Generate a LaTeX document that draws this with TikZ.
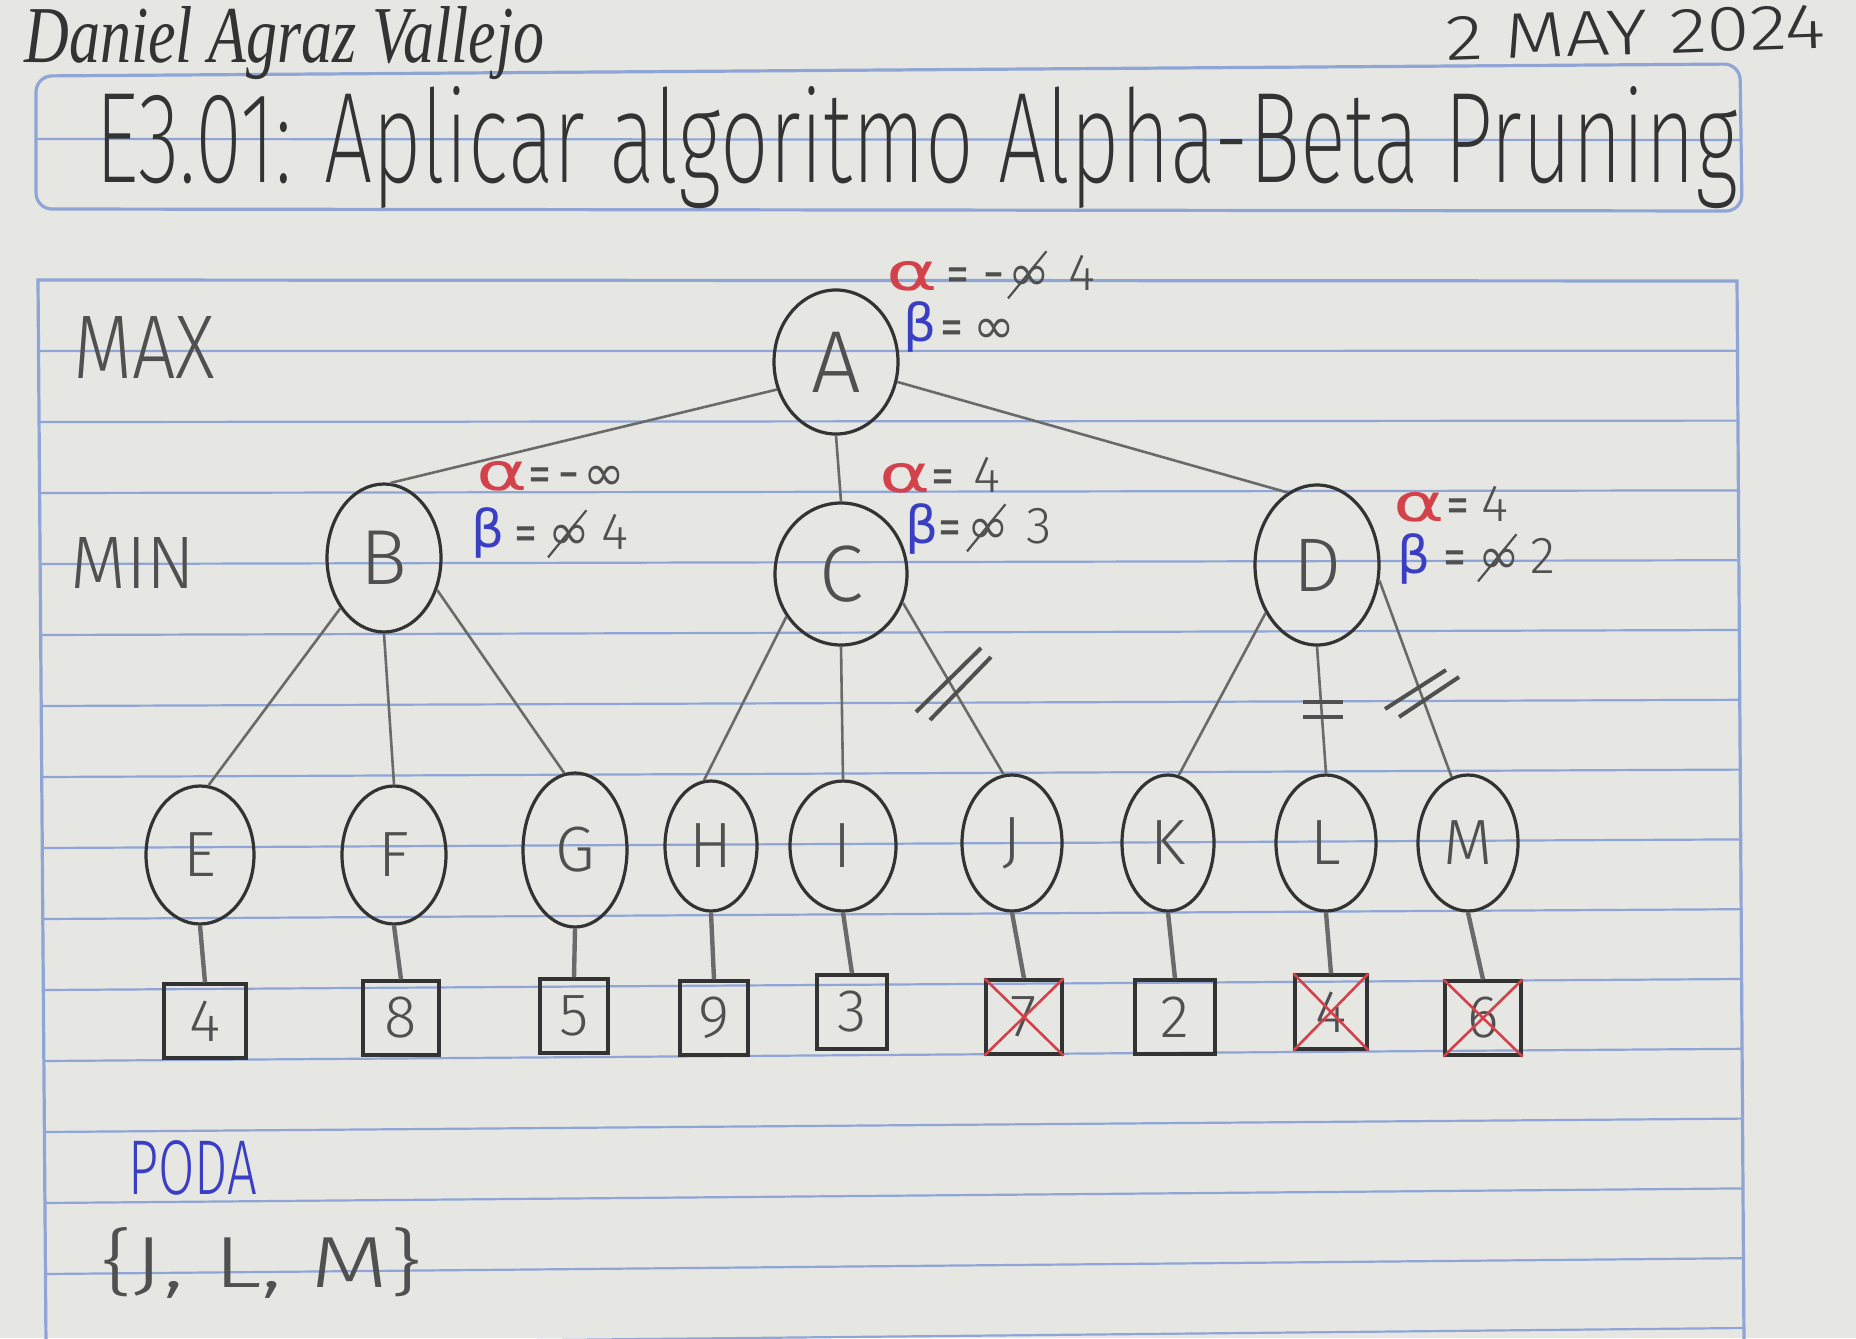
\documentclass[tikz,border=0pt]{standalone}
\usepackage{fontspec}
\usepackage{graphicx}
\usetikzlibrary{shapes.geometric}
\newfontfamily\djv{DejaVu Sans}
\newfontfamily\sigfont{Liberation Serif}
\IfFontExistsTF{Fira Sans ExtraLight}{\newfontfamily\handthin{Fira Sans ExtraLight}}{%
 \IfFontExistsTF{Fira Sans Light}{\newfontfamily\handthin{Fira Sans Light}}{%
  \IfFontExistsTF{Lato Light}{\newfontfamily\handthin{Lato Light}}{%
   \IfFontExistsTF{Open Sans Light}{\newfontfamily\handthin{Open Sans Light}}{%
    \newfontfamily\handthin{Latin Modern Sans}}}}}
\IfFontExistsTF{Fira Sans Light}{\newfontfamily\hand{Fira Sans Light}}{%
 \IfFontExistsTF{Lato Light}{\newfontfamily\hand{Lato Light}}{%
  \IfFontExistsTF{Open Sans Light}{\newfontfamily\hand{Open Sans Light}}{%
   \newfontfamily\hand{Latin Modern Sans}}}}
\definecolor{paper}{HTML}{E6E6E3}
\definecolor{ruleblue}{HTML}{8EA5D5}
\definecolor{pencil}{HTML}{505050}
\definecolor{ink}{HTML}{333333}
\definecolor{penred}{HTML}{D3424A}
\definecolor{penblue}{HTML}{3A3EC2}
\definecolor{edgegray}{HTML}{6A6A6A}
\newcommand\nEq{\scalebox{0.55}[1]{=}}
\newcommand\nMin{\scalebox{0.5}[1]{−}}
\newcommand\bigA{\scalebox{1.5}[1]{α}}
\begin{document}
\begin{tikzpicture}[x=0.5pt,y=-0.5pt,
  ruleline/.style={draw=ruleblue,line width=1.1pt},
  border/.style={draw=ruleblue,line width=1.6pt},
  tnode/.style={ellipse,draw=ink,line width=1.6pt,inner sep=0pt,text=pencil,font=\hand\fontsize{32}{34}\selectfont},
  vbox/.style={rectangle,draw=ink,line width=1.6pt,inner sep=0pt,minimum width=38pt,minimum height=37pt,text=pencil,font=\hand\fontsize{30}{32}\selectfont},
  edge/.style={draw=edgegray,line width=1.3pt},
  stub/.style={draw=edgegray,line width=2.2pt},
  hash/.style={draw=pencil,line width=2pt},
  cross/.style={draw=penred,line width=1.3pt},
  slash/.style={draw=pencil,line width=1.1pt},
  ann/.style={inner sep=0pt,anchor=base west,text=pencil,font=\djv\fontsize{25}{28}\selectfont},
  num/.style={inner sep=0pt,anchor=base west,text=pencil,font=\hand\fontsize{26}{28}\selectfont},
  greek/.style={inner sep=0pt,anchor=base west,font=\djv\fontsize{26}{28}\selectfont},
  label/.style={inner sep=0pt,anchor=base west,text=pencil}]

\fill[paper] (0,0) rectangle (1856,1338);
\useasboundingbox (0,0) rectangle (1856,1338);

% notebook ruling
\begin{scope}
\clip (0,0) rectangle (1856,1338);
\foreach \k in {1,...,15}{
  \draw[ruleline] ({38+8*(71*\k)/1058},{280+71*\k}) -- ({1737+6*(70*\k)/1058},{281+69.8*\k});
}
\draw[border] (46,1345) -- (38,280) -- (1737,281) -- (1744,1345);
\end{scope}
\draw[border,rounded corners=8pt] (36,209) -- (36,76) -- (1740,64) -- (1742,211) -- cycle;
\draw[ruleline] (36,139) -- (1741,140);

% header
\node[label,text=ink] (sig) at (24,63) {\resizebox{260pt}{28pt}{\sigfont\itshape Daniel Agraz Vallejo}};
\node[label,text=ink,rotate=2] (date) at (1446,61) {\resizebox{190pt}{22pt}{\hand 2 MAY 2024}};
\node[label,text=ink] (title) at (95,182) {\resizebox{821pt}{48pt}{\handthin E3.01: Aplicar algoritmo Alpha-Beta Pruning}};

% level labels
\node[label] (max) at (73,378) {\resizebox{71pt}{31pt}{\hand MAX}};
\node[label] (min) at (70,588) {\resizebox{62.5pt}{25.5pt}{\hand MIN}};

% tree nodes
\node[tnode,minimum width=62pt,minimum height=72pt,font=\hand\fontsize{44}{46}\selectfont] (A) at (836,362) {A};
\node[tnode,minimum width=57pt,minimum height=74pt,font=\hand\fontsize{39}{41}\selectfont] (B) at (384,558) {B};
\node[tnode,minimum width=66pt,minimum height=71pt,font=\hand\fontsize{40}{42}\selectfont] (C) at (841,574) {C};
\node[tnode,minimum width=62pt,minimum height=80pt,font=\hand\fontsize{38}{40}\selectfont] (D) at (1317,565) {D};

\node[tnode,minimum width=54pt,minimum height=69pt] (E) at (200,855) {E};
\node[tnode,minimum width=52pt,minimum height=69pt] (F) at (394,855) {F};
\node[tnode,minimum width=52pt,minimum height=77pt] (G) at (575,850) {G};
\node[tnode,minimum width=46pt,minimum height=65pt] (H) at (711,846) {H};
\node[tnode,minimum width=53pt,minimum height=65pt] (I) at (843,846) {I};
\node[tnode,minimum width=50pt,minimum height=68pt] (J) at (1012,843) {J};
\node[tnode,minimum width=46pt,minimum height=68pt] (K) at (1168,843) {K};
\node[tnode,minimum width=50pt,minimum height=68pt] (L) at (1326,843) {L};
\node[tnode,minimum width=50pt,minimum height=68pt] (M) at (1468,843) {M};

% value boxes
\node[vbox,minimum width=41pt] (vE) at (205,1021) {4};
\node[vbox] (vF) at (401,1018) {8};
\node[vbox,minimum width=34pt] (vG) at (574,1016) {5};
\node[vbox,minimum width=34pt] (vH) at (714,1018) {9};
\node[vbox,minimum width=35pt] (vI) at (852,1012) {3};
\node[vbox] (vJ) at (1024,1017) {7};
\node[vbox,minimum width=40pt] (vK) at (1175,1017) {2};
\node[vbox,minimum width=36pt] (vL) at (1331,1012) {4};
\node[vbox] (vM) at (1483,1018) {6};

% edges
\draw[edge] (A.205) -- (B.85);
\draw[edge] (A.south) -- (C.north);
\draw[edge] (A.342) -- (D.112);
\draw[edge] (B.229) -- (E.83);
\draw[edge] (B.south) -- (F.north);
\draw[edge] (B.329) -- (G.98);
\draw[edge] (C.218) -- (H.96);
\draw[edge] (C.south) -- (I.north);
\draw[edge] (C.335) -- (J.97);
\draw[edge] (D.223) -- (K.81);
\draw[edge] (D.south) -- (L.north);
\draw[edge] (D.346) -- (M.104);

\foreach \n in {E,F,G,H,I,J,K,L,M}{
  \draw[stub] (\n.south) -- (v\n.north);
}

% pruning marks
\draw[hash] (916,712) -- (981,648);
\draw[hash] (930,720) -- (991,657);
\draw[hash] (1303,702) -- (1343,702);
\draw[hash] (1303,717) -- (1343,717);
\draw[hash] (1385,709) -- (1446,670);
\draw[hash] (1399,717) -- (1459,677);

% crossed leaves
\foreach \n in {vJ,vL,vM}{
  \draw[cross] (\n.north west) -- (\n.south east);
  \draw[cross] (\n.north east) -- (\n.south west);
}

% annotations A
\node[greek,text=penred] (aAal) at (886,290) {\bigA};
\node[ann] (aAeq) at (946,290) {\nEq};
\node[ann] (aAmi) at (983,290) {\nMin};
\node[ann] (aAin) at (1008,290) {∞};
\node[num] (aAv) at (1068,290) {4};
\draw[slash] ([shift={(0,8)}]aAin.south west) -- ([shift={(-4,-14)}]aAin.north east);
\node[greek,text=penblue] (aAbe) at (903,341) {β};
\node[ann] (aAeq2) at (940,343) {\nEq};
\node[ann] (aAin2) at (973,343) {∞};

% annotations B
\node[greek,text=penred] (aBal) at (476,490) {\bigA};
\node[ann] (aBeq) at (528,490) {\nEq};
\node[ann] (aBmi) at (558,490) {\nMin};
\node[ann] (aBin) at (583,490) {∞};
\node[greek,text=penblue] (aBbe) at (471,547) {β};
\node[ann] (aBeq2) at (514,549) {\nEq};
\node[ann] (aBin2) at (548,549) {∞};
\node[num] (aBv) at (601,549) {4};
\draw[slash] ([shift={(0,8)}]aBin2.south west) -- ([shift={(-4,-14)}]aBin2.north east);

% annotations C
\node[greek,text=penred] (aCal) at (879,492) {\bigA};
\node[ann] (aCeq) at (931,492) {\nEq};
\node[num] (aCv) at (973,492) {4};
\node[greek,text=penblue] (aCbe) at (905,543) {β};
\node[ann] (aCeq2) at (938,543) {\nEq};
\node[ann] (aCin) at (967,543) {∞};
\node[num] (aCv2) at (1026,543) {3};
\draw[slash] ([shift={(0,8)}]aCin.south west) -- ([shift={(-4,-14)}]aCin.north east);

% annotations D
\node[greek,text=penred] (aDal) at (1393,521) {\bigA};
\node[ann] (aDeq) at (1446,521) {\nEq};
\node[num] (aDv) at (1481,521) {4};
\node[greek,text=penblue] (aDbe) at (1397,573) {β};
\node[ann] (aDeq2) at (1443,573) {\nEq};
\node[ann] (aDin) at (1478,573) {∞};
\node[num] (aDv2) at (1530,573) {2};
\draw[slash] ([shift={(0,8)}]aDin.south west) -- ([shift={(-4,-14)}]aDin.north east);

% pruned set
\node[label,text=penblue] (poda) at (128,1194) {\resizebox{64.5pt}{27pt}{\hand PODA}};
\node[label] (set) at (100,1287) {\resizebox{161pt}{30pt}{\hand \{J, L, M\}}};
\end{tikzpicture}
\end{document}
